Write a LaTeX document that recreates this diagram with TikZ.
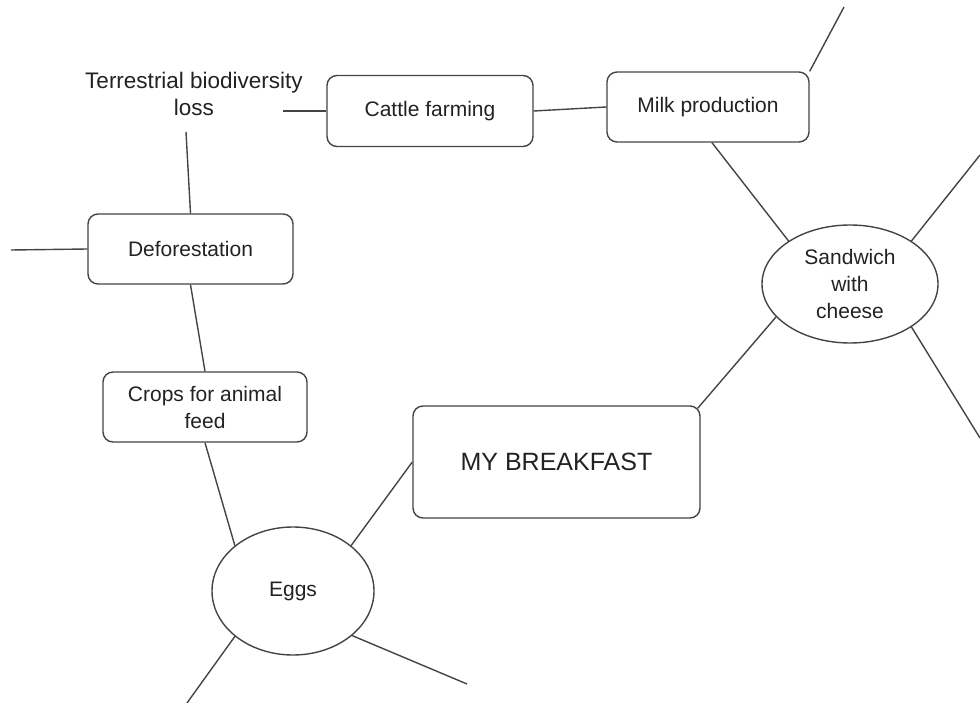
\documentclass[tikz,border=0pt]{standalone}
\usepackage{fontspec}
\setmainfont{Liberation Sans}
\usetikzlibrary{shapes.geometric}
\definecolor{linec}{HTML}{444444}
\definecolor{textc}{HTML}{222222}
\begin{document}
\begin{tikzpicture}[x=1pt,y=-1pt,
  conn/.style={draw=linec,line width=1.4pt},
  box/.style={draw=linec,line width=1.4pt,rounded corners=10pt,inner sep=0pt,align=center,text=textc,font=\fontsize{21}{27}\selectfont},
  oval/.style={draw=linec,line width=1.4pt,ellipse,inner sep=0pt,align=center,text=textc,font=\fontsize{21}{27}\selectfont},
  plain/.style={text=textc,align=center,inner sep=0pt,font=\fontsize{22.5}{27}\selectfont}
]
\useasboundingbox (0,0) rectangle (980,703);

\node[plain] (terr) at (194,94) {Terrestrial biodiversity\\loss};
\node[box,minimum width=205,minimum height=70] (defor) at (190.5,249) {Deforestation};
\node[box,minimum width=206,minimum height=71] (cattle) at (430,111) {Cattle farming};
\node[box,minimum width=202,minimum height=70] (milk) at (708,107) {Milk production};
\node[box,minimum width=204,minimum height=70] (crops) at (205,407) {Crops for animal\\feed};
\node[box,minimum width=287,minimum height=112,font=\fontsize{25}{30}\selectfont] (bf) at (556.5,462) {MY BREAKFAST};
\node[oval,minimum width=176,minimum height=118] (sand) at (850,284) {Sandwich\\with\\cheese};
\node[oval,minimum width=162,minimum height=128] (eggs) at (293,591) {Eggs};

\coordinate (tR) at (283,111);
\coordinate (tB) at (186,132);
\coordinate (dL) at (11,250);
\coordinate (mT) at (844,7);
\coordinate (sUR) at (980,155);
\coordinate (sLR) at (980,438);
\coordinate (eLL) at (187,703);
\coordinate (eLR) at (467,684);

\draw[conn] (tR) -- (cattle.west);
\draw[conn] (cattle.east) -- (milk.west);
\draw[conn] (milk.north east) -- (mT);
\draw[conn] ([xshift=4pt]milk.south) -- (sand.145);
\draw[conn] (sand.35) -- (sUR);
\draw[conn] (sand.-35) -- (sLR);
\draw[conn] (sand.204) -- ([shift={(-3pt,-3pt)}]bf.north east);
\draw[conn] (bf.west) -- (eggs.38);
\draw[conn] (eggs.142) -- (crops.south);
\draw[conn] (crops.north) -- (defor.south);
\draw[conn] (defor.north) -- (tB);
\draw[conn] (dL) -- (defor.west);
\draw[conn] (eggs.218) -- (eLL);
\draw[conn] (eggs.-37) -- (eLR);
\end{tikzpicture}
\end{document}
